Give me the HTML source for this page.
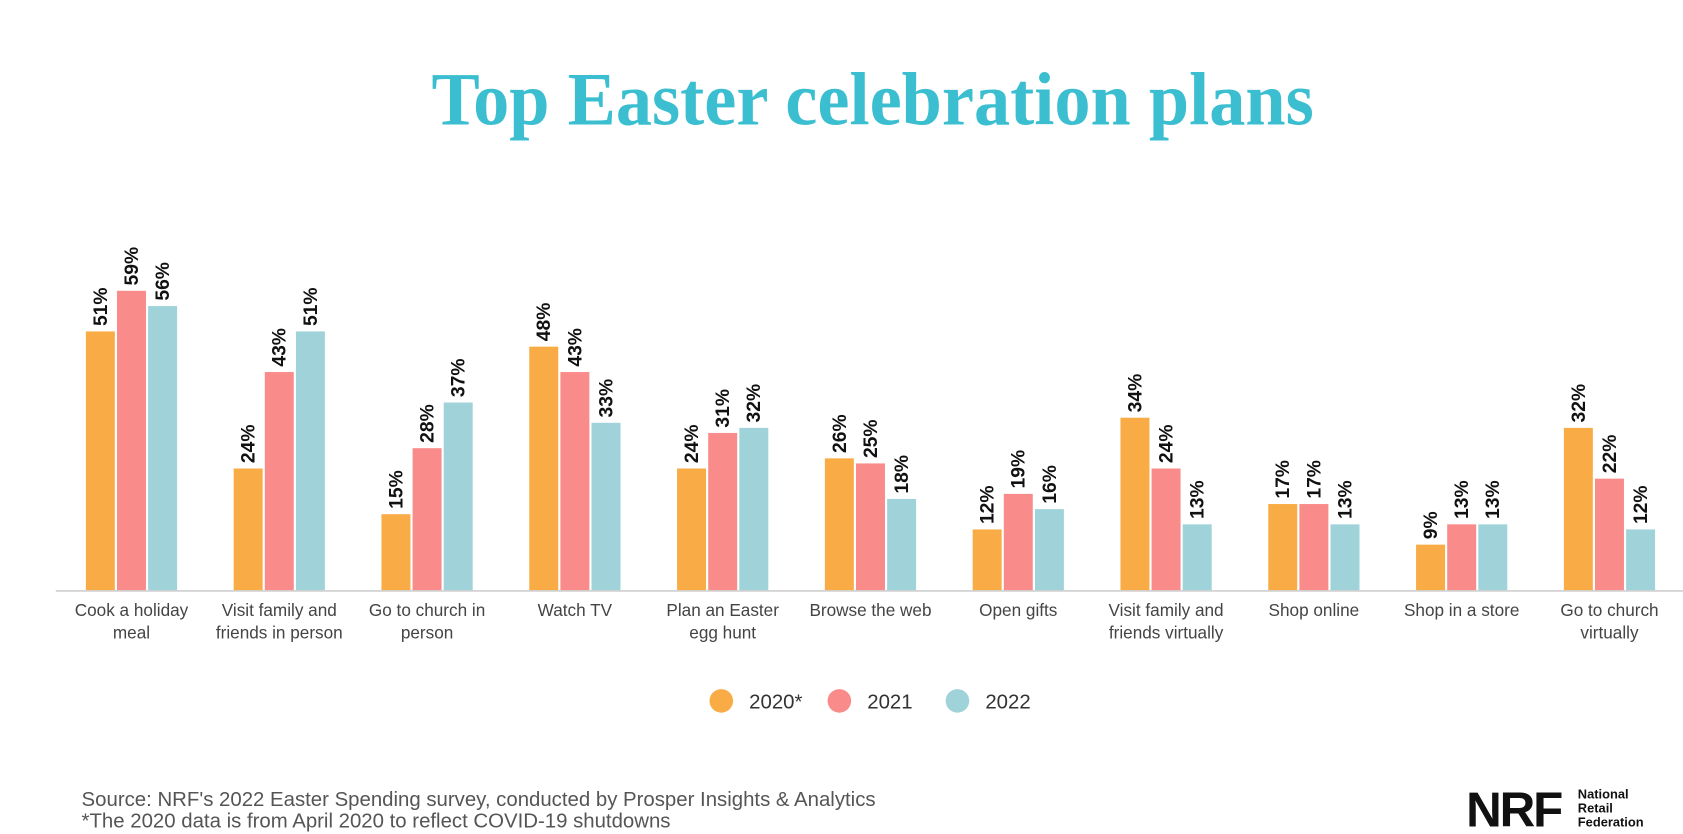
<!DOCTYPE html>
<html><head><meta charset="utf-8"><style>
html,body{margin:0;padding:0;background:#fff;}
svg{display:block;font-family:"Liberation Sans",sans-serif;}
</style></head><body>
<svg id="chart" width="1683" height="834" viewBox="0 0 1568 777" preserveAspectRatio="none">
<text x="813" y="116" text-anchor="middle" textLength="822" lengthAdjust="spacingAndGlyphs" font-family="Liberation Serif, serif" font-weight="bold" font-size="70" fill="#3bbfd0">Top Easter celebration plans</text>
<g id="bars"></g>
<line x1="52" y1="550.5" x2="1568" y2="550.5" stroke="#cfcfcf" stroke-width="1.5"/>
<g id="xlabels"></g>
<g font-size="19" fill="#333">
<g><circle cx="672" cy="653" r="11" fill="#f9ac45"/><text x="698" y="660">2020*</text></g>
<g><circle cx="782" cy="653" r="11" fill="#f98c8a"/><text x="808" y="660">2021</text></g>
<g><circle cx="892" cy="653" r="11" fill="#a0d3d9"/><text x="918" y="660">2022</text></g>
</g>
<g font-size="19" fill="#555">
<text x="76" y="751">Source: NRF's 2022 Easter Spending survey, conducted by Prosper Insights &amp; Analytics</text>
<text x="76" y="771">*The 2020 data is from April 2020 to reflect COVID-19 shutdowns</text>
</g>
<g fill="#111">
<text x="1366" y="770" font-size="46" font-weight="bold" letter-spacing="-2">NRF</text>
<text x="1470" y="744" font-size="12" font-weight="bold">National</text>
<text x="1470" y="757" font-size="12" font-weight="bold">Retail</text>
<text x="1470" y="770" font-size="12" font-weight="bold">Federation</text>
</g>
</svg>
<script>
const categories=[["Cook a holiday","meal"],["Visit family and","friends in person"],["Go to church in","person"],["Watch TV"],["Plan an Easter","egg hunt"],["Browse the web"],["Open gifts"],["Visit family and","friends virtually"],["Shop online"],["Shop in a store"],["Go to church","virtually"]];
const values2020=[51,24,15,48,24,26,12,34,17,9,32];
const values2021=[59,43,28,43,31,25,19,24,17,13,22];
const values2022=[56,51,37,33,32,18,16,13,13,13,12];
const series=[{name:"2020",vals:values2020,color:"#f9ac45"},{name:"2021",vals:values2021,color:"#f98c8a"},{name:"2022",vals:values2022,color:"#a0d3d9"}];
const NS="http://www.w3.org/2000/svg";
const baseY=550, pxPer=4.73, x0=122.5, step=137.7, bw=27, gap=2;
const xCenter=i=>x0+step*i;
const yScale=v=>baseY-v*pxPer;
const bars=document.getElementById('bars');
const xl=document.getElementById('xlabels');
categories.forEach((c,i)=>{
  series.forEach((s,j)=>{
    const x=xCenter(i)+(j-1)*(bw+gap)-bw/2;
    const y=yScale(s.vals[i]);
    const r=document.createElementNS(NS,'rect');
    
    
    r.setAttribute('x',x);r.setAttribute('y',y);r.setAttribute('width',bw);r.setAttribute('height',baseY-y);r.setAttribute('fill',s.color);
    bars.appendChild(r);
    const t=document.createElementNS(NS,'text');
    
    
    const cx=x+bw/2+6, cy=y-5;
    t.setAttribute('transform','translate('+cx+','+cy+') rotate(-90)');
    t.setAttribute('font-size','18');t.setAttribute('font-weight','bold');t.setAttribute('fill','#111');
    t.textContent=s.vals[i]+'%';
    bars.appendChild(t);
  });
  c.forEach((line,k)=>{
    const t=document.createElementNS(NS,'text');
    
    
    t.setAttribute('x',xCenter(i));t.setAttribute('y',574+k*21);
    t.setAttribute('text-anchor','middle');t.setAttribute('font-size','16');t.setAttribute('fill','#444');
    t.textContent=line;
    xl.appendChild(t);
  });
});
</script>
</body></html>
